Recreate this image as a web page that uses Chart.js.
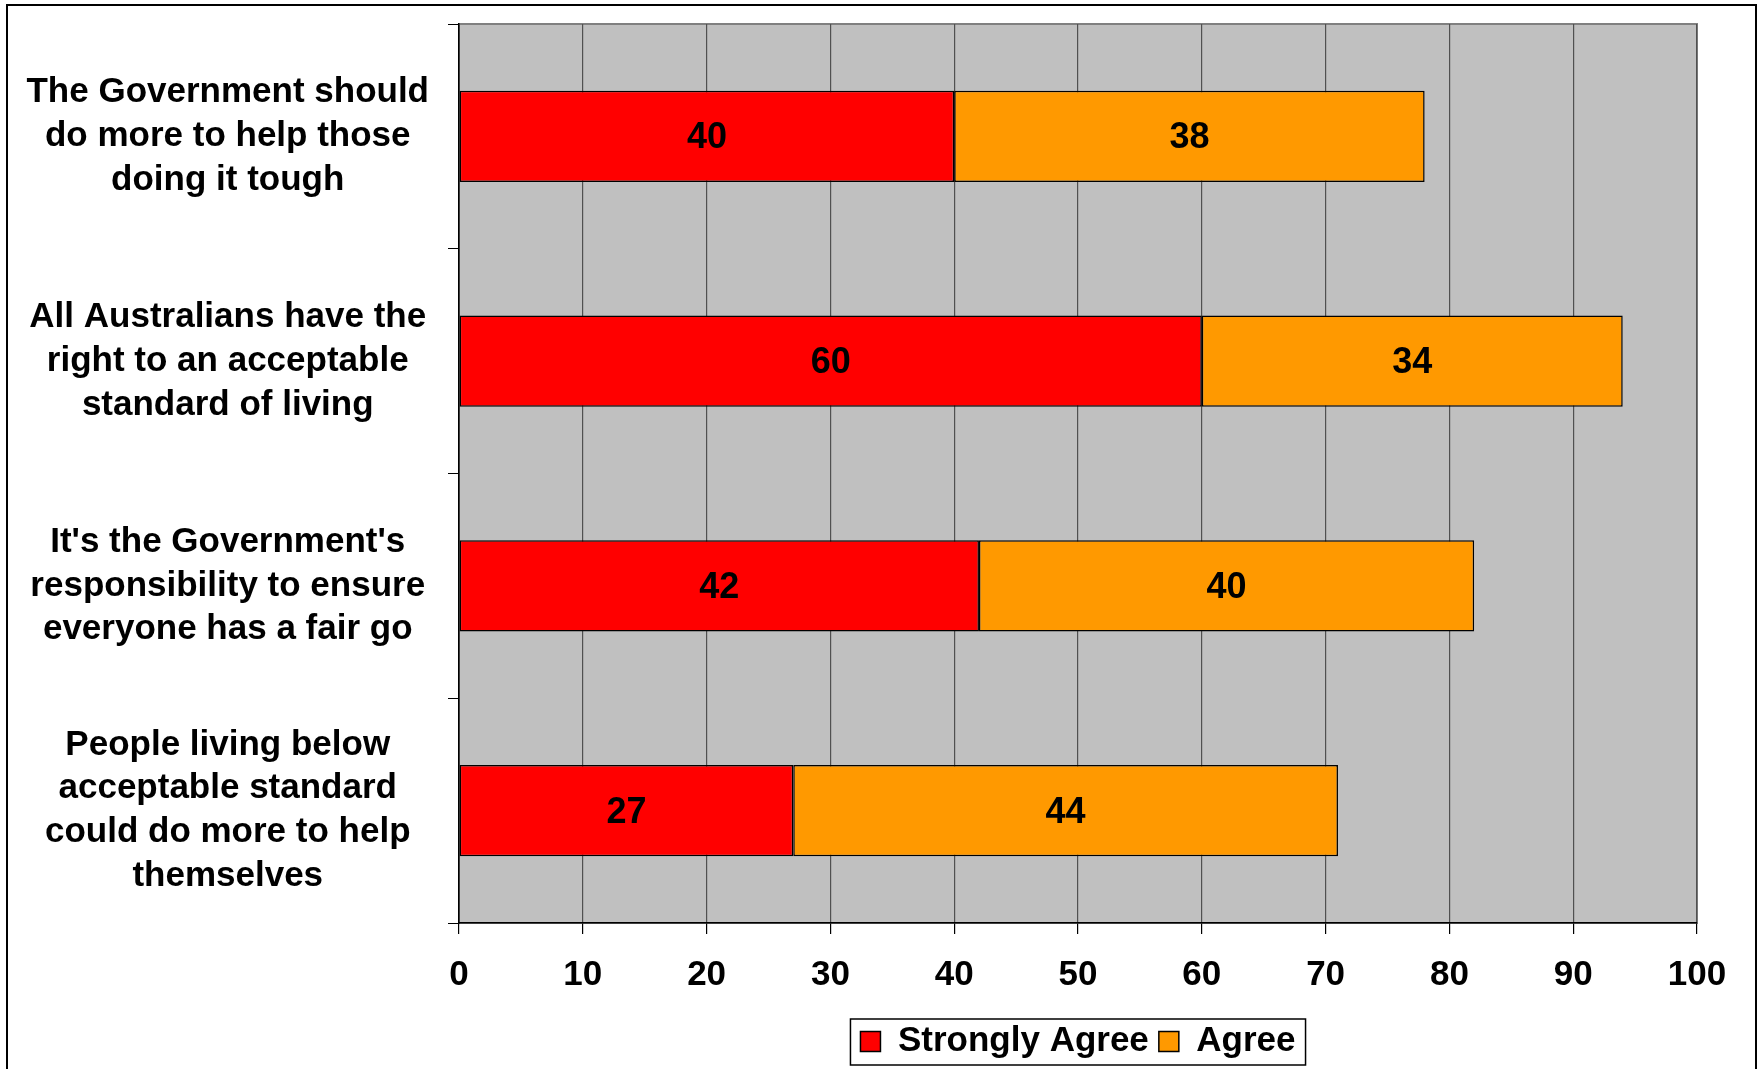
<!DOCTYPE html>
<html>
<head>
<meta charset="utf-8">
<script src="https://cdn.jsdelivr.net/npm/chart.js@4.4.0/dist/chart.umd.min.js"></script>
<style>
  html, body { margin: 0; padding: 0; background: #ffffff; }
  #wrap { width: 1758px; height: 1069px; }
</style>
</head>
<body>
<div id="wrap"><canvas id="surveyChart" width="1758" height="1069"></canvas></div>
<script>
// Datos del gráfico
const categories = [
    ['The Government should', 'do more to help those', 'doing it tough'],
    ['All Australians have the', 'right to an acceptable', 'standard of living'],
    ["It's the Government's", 'responsibility to ensure', 'everyone has a fair go'],
    ['People living below', 'acceptable standard', 'could do more to help', 'themselves']
];
const stronglyAgree = [40, 60, 42, 27];
const agree = [38, 34, 40, 44];
const seriesNames = ['Strongly Agree', 'Agree'];
const xTickValues = [0, 10, 20, 30, 40, 50, 60, 70, 80, 90, 100];

const FONT = "'Liberation Sans', Arial, sans-serif";

// fondo blanco, área gris y marco exterior
const framePlugin = {
    id: 'frame',
    beforeDraw(chart) {
        const ctx = chart.ctx;
        const a = chart.chartArea;
        ctx.save();
        ctx.fillStyle = '#ffffff';
        ctx.fillRect(0, 0, chart.width, chart.height);
        ctx.fillStyle = '#c0c0c0';
        ctx.fillRect(a.left, a.top, a.right - a.left, a.bottom - a.top);
        ctx.strokeStyle = '#808080';
        ctx.lineWidth = 2;
        ctx.strokeRect(a.left, a.top, a.right - a.left, a.bottom - a.top);
        ctx.restore();
    },
    afterDraw(chart) {
        const ctx = chart.ctx;
        ctx.save();
        ctx.strokeStyle = '#000000';
        ctx.lineWidth = 2;
        ctx.strokeRect(7, 5, 1749, 1080);
        // caja de la leyenda
        const boxes = chart.legend.legendHitBoxes;
        if (boxes && boxes.length) {
            const l = Math.min(...boxes.map(b => b.left)) - 10;
            const r = Math.max(...boxes.map(b => b.left + b.width)) + 10;
            const t = boxes[0].top - 5;
            const h = boxes[0].height + 11;
            ctx.lineWidth = 1.5;
            ctx.strokeStyle = '#000000';
            ctx.strokeRect(l, t, r - l, h);
        }
        ctx.restore();
    }
};

// etiquetas de valor en el centro de cada segmento
const valueLabels = {
    id: 'valueLabels',
    afterDatasetsDraw(chart) {
        const ctx = chart.ctx;
        ctx.save();
        ctx.font = 'bold 36px ' + FONT;
        ctx.fillStyle = '#000000';
        ctx.textAlign = 'center';
        ctx.textBaseline = 'middle';
        chart.data.datasets.forEach((ds, i) => {
            chart.getDatasetMeta(i).data.forEach((bar, j) => {
                ctx.fillText(ds.data[j], (bar.x + bar.base) / 2, bar.y + 2);
            });
        });
        ctx.restore();
    }
};

new Chart(document.getElementById('surveyChart'), {
    type: 'bar',
    data: {
        labels: categories,
        datasets: [{
            label: seriesNames[0],
            data: stronglyAgree,
            backgroundColor: '#ff0000',
            borderColor: '#000000',
            borderWidth: 1.5,
            borderSkipped: false,
            stack: 's'
        }, {
            label: seriesNames[1],
            data: agree,
            backgroundColor: '#ff9900',
            borderColor: '#000000',
            borderWidth: 1.5,
            borderSkipped: false,
            stack: 's'
        }]
    },
    options: {
        indexAxis: 'y',
        responsive: false,
        animation: false,
        barPercentage: 0.405,
        categoryPercentage: 1.0,
        layout: { padding: { top: 24, right: 61, left: 0, bottom: 0 } },
        plugins: {
            tooltip: { enabled: false },
            legend: {
                position: 'bottom',
                fullSize: false,
                labels: {
                    boxWidth: 20,
                    boxHeight: 20,
                    padding: 10,
                    color: '#000000',
                    font: { family: FONT, size: 35, weight: 'bold' }
                }
            }
        },
        scales: {
            x: {
                type: 'linear',
                stacked: true,
                min: 0,
                max: 100,
                afterBuildTicks: s => { s.ticks = xTickValues.map(v => ({ value: v })); },
                afterFit: s => { s.height = 91; s.paddingLeft = 0; s.paddingRight = 0; },
                grid: {
                    color: '#505050',
                    lineWidth: 1.2,
                    tickLength: 11,
                    tickColor: '#000000'
                },
                border: { display: true, color: '#000000', width: 1.5 },
                ticks: {
                    padding: 20,
                    color: '#000000',
                    font: { family: FONT, size: 35, weight: 'bold' }
                }
            },
            y: {
                stacked: true,
                afterFit: s => { s.width = 459; s.paddingTop = 0; s.paddingBottom = 0; },
                grid: {
                    offset: true,
                    drawOnChartArea: false,
                    tickLength: 11,
                    color: '#000000',
                    tickColor: '#000000'
                },
                border: { display: true, color: '#000000', width: 1.5 },
                ticks: {
                    crossAlign: 'center',
                    padding: 19,
                    color: '#000000',
                    font: { family: FONT, size: 35, weight: 'bold', lineHeight: 1.25 }
                }
            }
        }
    },
    plugins: [framePlugin, valueLabels]
});
</script>
</body>
</html>
